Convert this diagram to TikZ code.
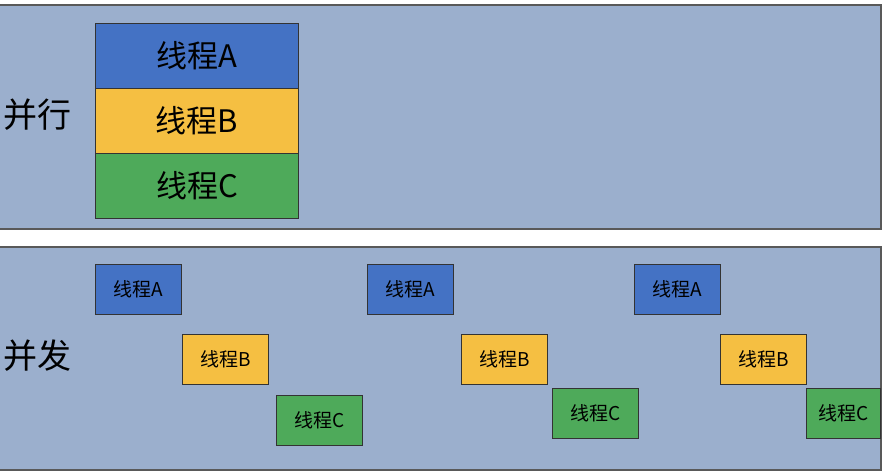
\documentclass[tikz,border=0pt]{standalone}
\usepackage{fontspec}
\setmainfont{Noto Sans CJK SC}
\begin{document}
\begin{tikzpicture}[x=1pt,y=-1pt,
  panel/.style={draw=black!65,line width=1.2pt,fill=panelc},
  thr/.style={draw=black!80,line width=1.1pt,inner sep=0pt,anchor=north west},
  big/.style={thr,minimum width=203pt,minimum height=65pt,font=\fontsize{31}{33}\selectfont},
  small/.style={thr,minimum width=86pt,minimum height=50pt,font=\fontsize{19}{21}\selectfont},
  lab/.style={inner sep=0pt,font=\fontsize{34}{36}\selectfont}]
\definecolor{panelc}{HTML}{9BAFCD}
\definecolor{tblue}{HTML}{4472C4}
\definecolor{tyellow}{HTML}{F5BF42}
\definecolor{tgreen}{HTML}{4EAA5A}
\useasboundingbox (0,0) rectangle (887,473);
\fill[white] (0,0) rectangle (887,473);
\draw[panel] (-3,5) rectangle (881,229);
\draw[panel] (-3,247) rectangle (881,470);
\node[lab] (par) at (38,115) {并行};
\node[lab] (con) at (38,356) {并发};
\node[big,fill=tblue] (pa) at (95,23) {线程A};
\node[big,fill=tyellow] (pb) at (95,88) {线程B};
\node[big,fill=tgreen] (pc) at (95,153) {线程C};
\node[small,fill=tblue] (a1) at (95,264) {线程A};
\node[small,fill=tyellow] (b1) at (182,334) {线程B};
\node[small,fill=tgreen] (c1) at (276,395) {线程C};
\node[small,fill=tblue] (a2) at (367,264) {线程A};
\node[small,fill=tyellow] (b2) at (461,334) {线程B};
\node[small,fill=tgreen] (c2) at (552,388) {线程C};
\node[small,fill=tblue] (a3) at (634,264) {线程A};
\node[small,fill=tyellow] (b3) at (720,334) {线程B};
\node[small,fill=tgreen,minimum width=74pt] (c3) at (806,388) {线程C};
\end{tikzpicture}
\end{document}
